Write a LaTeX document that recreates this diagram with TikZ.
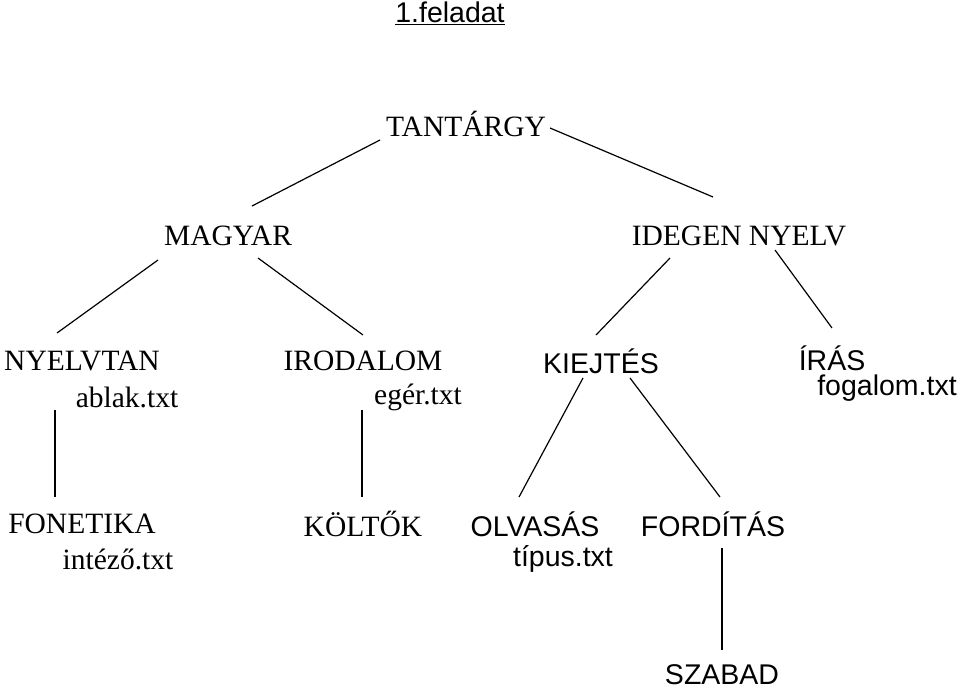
\documentclass[tikz,border=0pt]{standalone}
\usepackage{fontspec}
\setmainfont{Liberation Serif}
\newfontfamily\arialf{Liberation Sans}
\begin{document}
\begin{tikzpicture}[x=1pt,y=-1pt,
  tm/.style={font=\fontsize{29.5}{30}\selectfont, inner sep=0},
  ar/.style={font=\arialf\fontsize{28.5}{30}\selectfont, inner sep=0},
  ln/.style={line width=1.2pt}]
\useasboundingbox (0,0) rectangle (960,689);
\node[ar] (t) at (450,13) {\underline{1.feladat}};
\node[tm] (tan) at (466,124) {TANTÁRGY};
\node[tm] (mag) at (228,236) {MAGYAR};
\node[tm] (ide) at (739,236) {IDEGEN NYELV};
\node[tm] (nyt) at (82,361) {NYELVTAN};
\node[tm] (nyf) at (127,397) {ablak.txt};
\node[tm] (iro) at (363,361) {IRODALOM};
\node[tm] (irf) at (418,397) {egér.txt};
\node[ar] (kie) at (601,361) {KIEJTÉS};
\node[ar] (ira) at (832,358) {ÍRÁS};
\node[ar] (irff) at (887,388) {fogalom.txt};
\node[tm] (fon) at (82,524) {FONETIKA};
\node[tm] (fonf) at (118,559) {intéző.txt};
\node[tm] (kol) at (363,524) {KÖLTŐK};
\node[ar] (olv) at (535,524) {OLVASÁS};
\node[ar] (olvf) at (563,559) {típus.txt};
\node[ar] (for) at (713,524) {FORDÍTÁS};
\node[ar, anchor=base] (sza) at (722,684) {SZABAD};
\draw[ln] (380,140)--(252,206);
\draw[ln] (550,128)--(713,197);
\draw[ln] (158,260)--(57,333);
\draw[ln] (258,258)--(363,335);
\draw[ln] (670,258)--(596,335);
\draw[ln] (775,250)--(832,328);
\draw[ln] (55,410)--(55,497);
\draw[ln] (362,410)--(362,497);
\draw[ln] (583,378)--(519,497);
\draw[ln] (630,378)--(720,497);
\draw[ln] (722,548)--(722,650);
\end{tikzpicture}
\end{document}
